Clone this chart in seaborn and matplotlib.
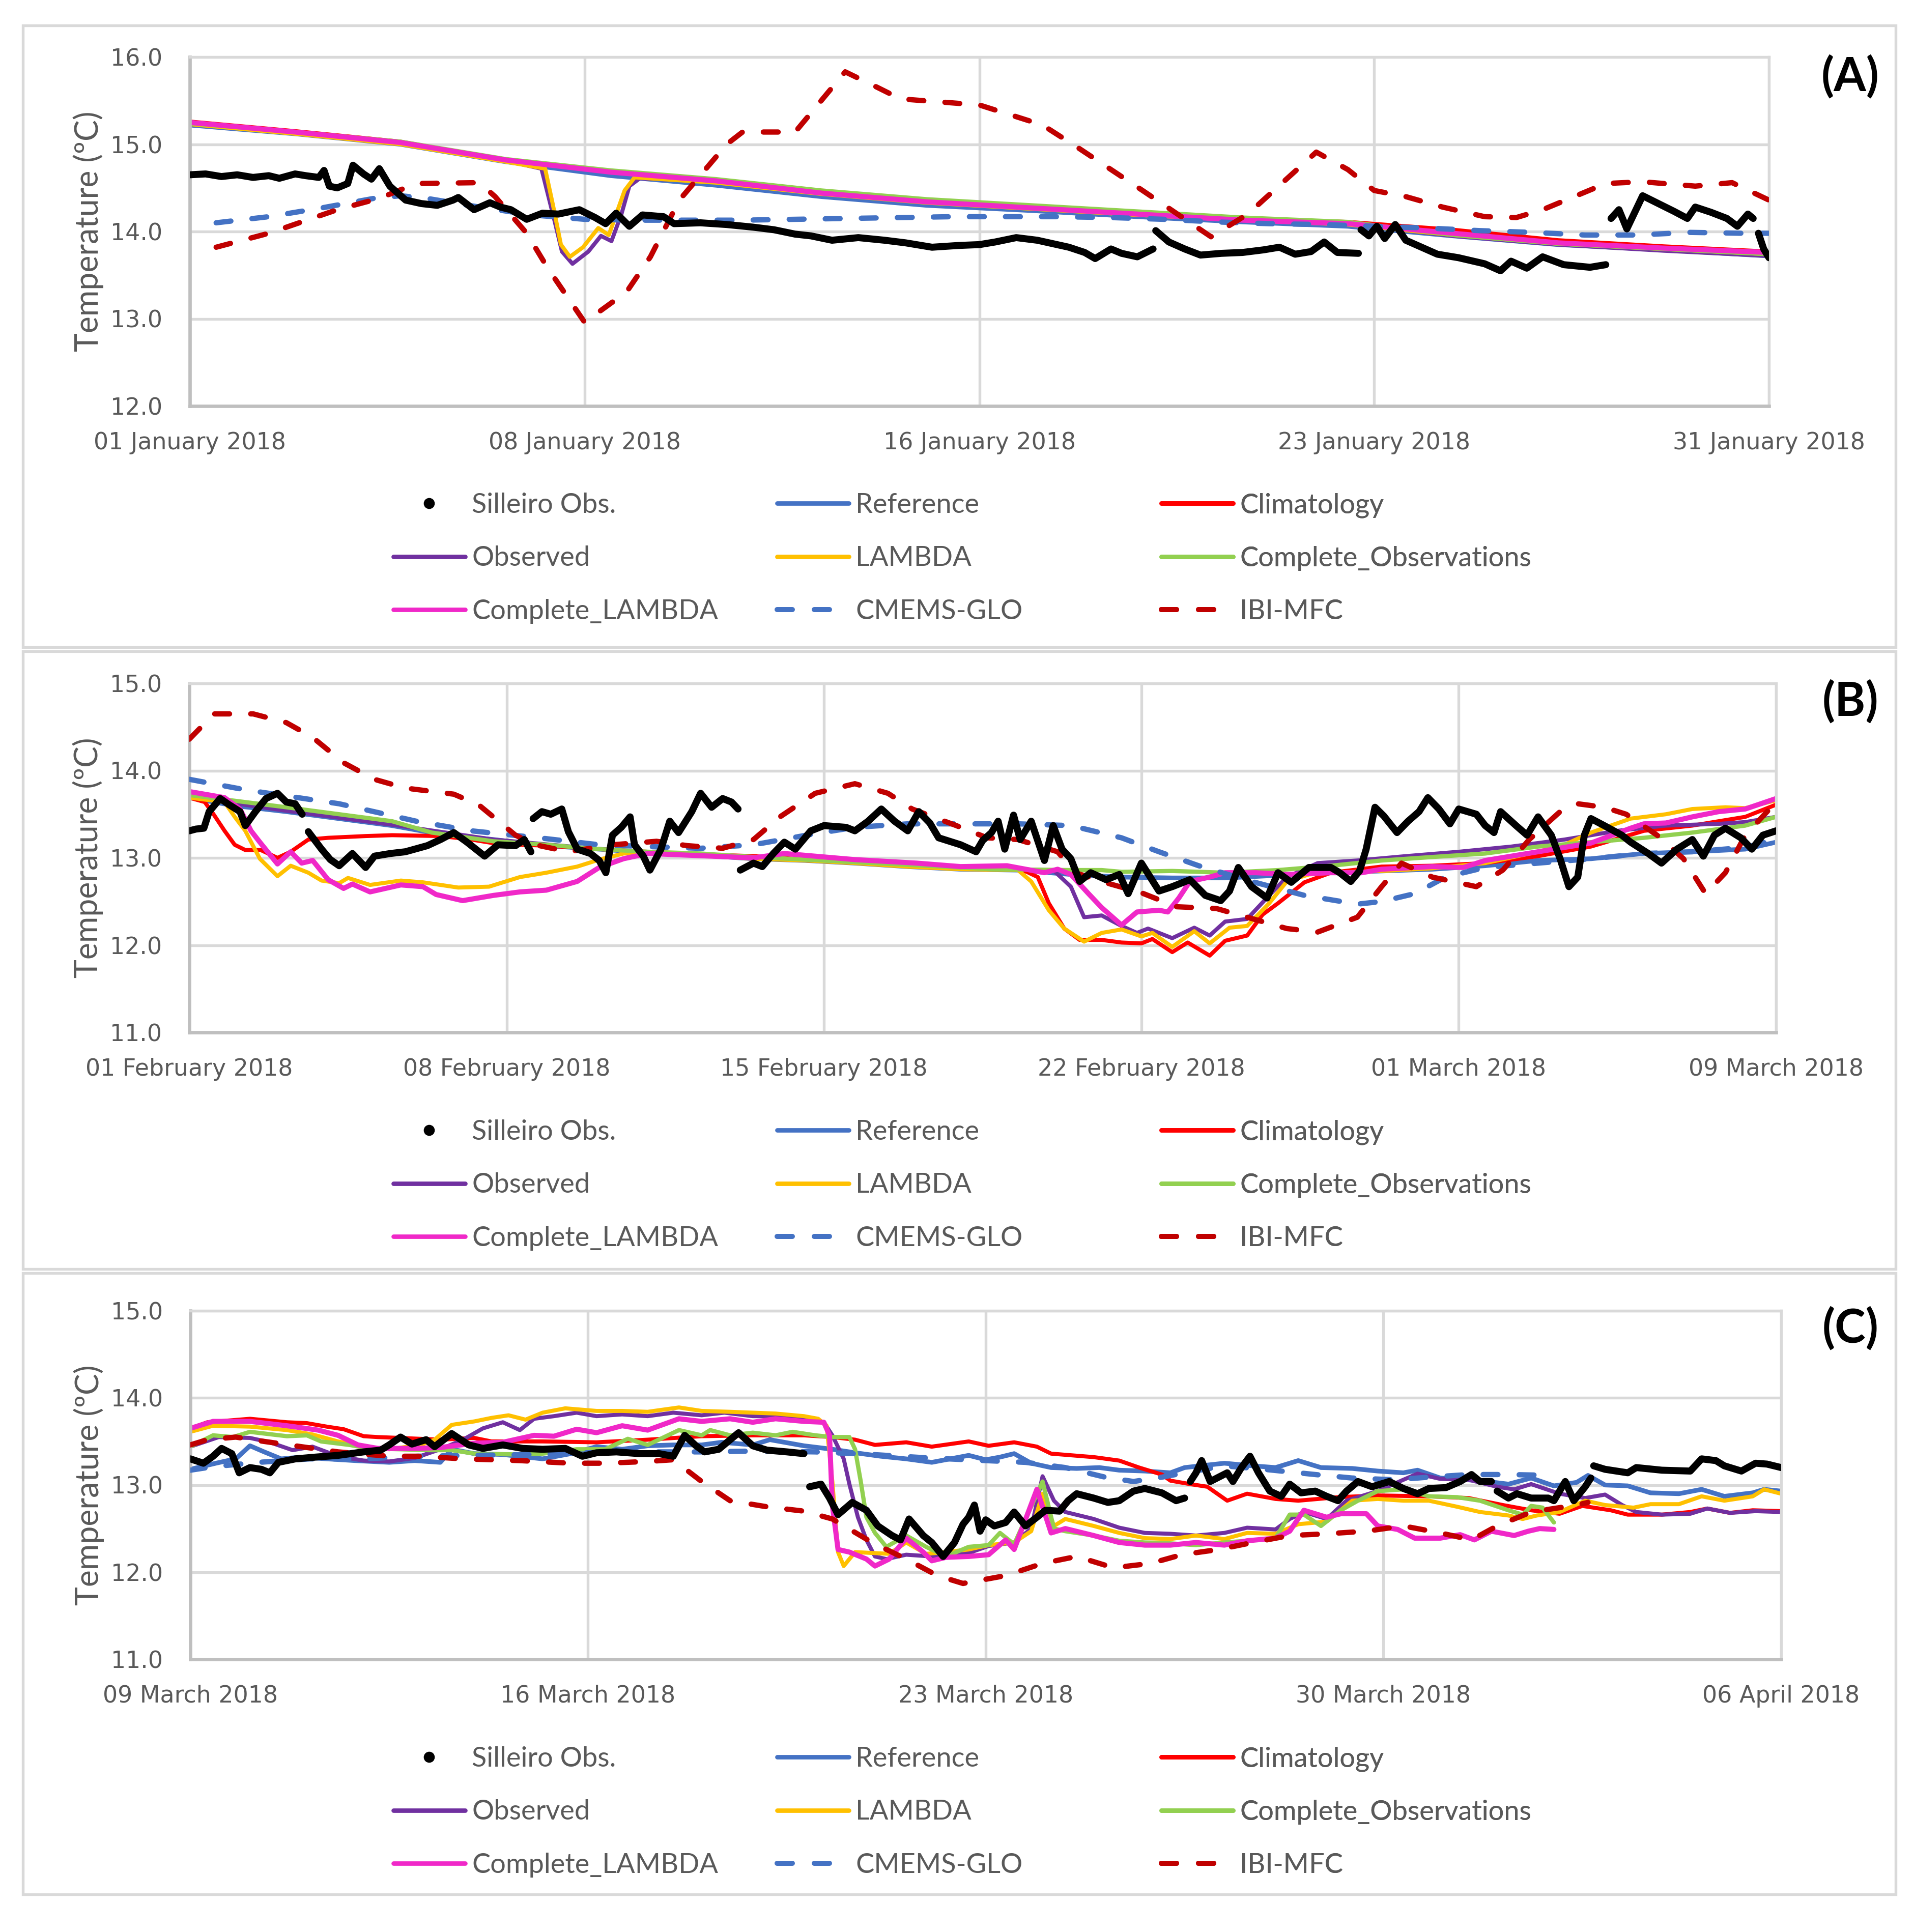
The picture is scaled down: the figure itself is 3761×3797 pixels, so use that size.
import numpy as np
import pandas as pd
import matplotlib
matplotlib.use("Agg")
import matplotlib.pyplot as plt
from matplotlib.lines import Line2D
from matplotlib.patches import Rectangle
import seaborn as sns

# x values are days since the first tick of each panel, y values in ºC

# ---------------- (A) January 2018 ----------------
a_ticks = [0, 7.5, 15, 22.5, 30]
a_ticklabels = ["01 January 2018", "08 January 2018", "16 January 2018",
                "23 January 2018", "31 January 2018"]
a_days = [0, 2, 4, 6, 8, 10, 12, 14, 16, 18, 20, 22, 24, 26, 28, 30]
a_reference = [15.22, 15.12, 15.00, 14.80, 14.64, 14.53, 14.40, 14.30,
               14.24, 14.17, 14.11, 14.06, 13.95, 13.85, 13.79, 13.72]
a_climatology = [15.26, 15.15, 15.03, 14.82, 14.68, 14.58, 14.45, 14.34,
                 14.28, 14.21, 14.15, 14.11, 14.02, 13.90, 13.83, 13.77]
a_complete_obs = [15.24, 15.14, 15.03, 14.83, 14.70, 14.60, 14.47, 14.37,
                  14.30, 14.23, 14.16, 14.11, 13.96, 13.86, 13.80, 13.74]
a_complete_lambda = [15.25, 15.14, 15.02, 14.82, 14.68, 14.58, 14.44, 14.34,
                     14.27, 14.20, 14.13, 14.09, 13.98, 13.87, 13.81, 13.76]
a_observed = [(0, 15.24), (2, 15.13), (4, 15.01), (6, 14.81), (6.68, 14.72), (6.93, 14.12),
              (7.07, 13.77), (7.27, 13.63), (7.57, 13.77), (7.81, 13.95), (8.01, 13.89),
              (8.2, 14.20), (8.35, 14.52), (8.55, 14.61), (10, 14.57), (12, 14.44), (14, 14.34),
              (16, 14.27), (18, 14.20), (20, 14.13), (22, 14.09), (24, 13.95), (26, 13.85),
              (28, 13.78), (30, 13.72)]
a_lambda = [(0, 15.23), (2, 15.12), (4, 15.00), (6, 14.80), (6.75, 14.72), (6.9, 14.30),
            (7.05, 13.85), (7.22, 13.71), (7.47, 13.82), (7.76, 14.04), (7.96, 13.96),
            (8.26, 14.47), (8.45, 14.62), (10, 14.56), (12, 14.43), (14, 14.33), (16, 14.26),
            (18, 14.19), (20, 14.13), (22, 14.08), (24, 13.96), (26, 13.86), (28, 13.80),
            (30, 13.74)]
a_cmems = [(0.5, 14.10), (1.5, 14.17), (2.5, 14.27), (3.5, 14.38), (4.0, 14.41), (4.5, 14.38),
           (5.5, 14.28), (6.5, 14.19), (7.5, 14.14), (8.5, 14.13), (9.5, 14.13), (10.5, 14.13),
           (11.5, 14.14), (12.5, 14.15), (13.5, 14.16), (14.5, 14.17), (15.5, 14.17),
           (16.5, 14.17), (17.5, 14.16), (18.5, 14.14), (19.5, 14.11), (20.5, 14.09),
           (21.5, 14.08), (22.5, 14.06), (23.5, 14.04), (24.5, 14.01), (25.5, 13.99),
           (26.5, 13.96), (27.5, 13.96), (28.5, 13.99), (29.5, 13.98), (30.0, 13.98)]
a_ibi = [(0.5, 13.82), (1.5, 13.98), (2.8, 14.25), (3.6, 14.38), (4.3, 14.55), (5.5, 14.56),
         (5.8, 14.40), (6.4, 13.98), (6.8, 13.58), (7.5, 12.96), (8.3, 13.31), (8.75, 13.71),
         (9.3, 14.36), (10.2, 15.00), (10.5, 15.14), (11.5, 15.14), (12.45, 15.83), (13.0, 15.67),
         (13.5, 15.52), (15.0, 15.45), (16.2, 15.22), (16.9, 14.95), (18.1, 14.47), (19.4, 13.94),
         (20.1, 14.20), (21.4, 14.91), (22.0, 14.71), (22.5, 14.47), (23.1, 14.40), (23.8, 14.28),
         (24.6, 14.17), (25.2, 14.16), (25.7, 14.25), (26.9, 14.55), (27.6, 14.57), (28.6, 14.52),
         (29.3, 14.56), (30.0, 14.36)]
a_obs = [(0.0, 14.65), (0.3, 14.66), (0.6, 14.63), (0.9, 14.65), (1.2, 14.62), (1.5, 14.64),
         (1.7, 14.61), (2.0, 14.66), (2.2, 14.64), (2.45, 14.62), (2.55, 14.70), (2.65, 14.52),
         (2.8, 14.50), (3.0, 14.55), (3.1, 14.76), (3.3, 14.66), (3.45, 14.60), (3.6, 14.72),
         (3.8, 14.52), (4.1, 14.36), (4.4, 14.32), (4.7, 14.30), (5.0, 14.36), (5.1, 14.39),
         (5.4, 14.25), (5.7, 14.33), (5.9, 14.28), (6.1, 14.25), (6.4, 14.14), (6.7, 14.21),
         (7.0, 14.20), (7.4, 14.25), (7.7, 14.16), (7.9, 14.09), (8.1, 14.21), (8.35, 14.06),
         (8.6, 14.19), (9.0, 14.17), (9.2, 14.09), (9.7, 14.10), (10.2, 14.08), (10.7, 14.05),
         (11.1, 14.02), (11.5, 13.97), (11.8, 13.95), (12.2, 13.90), (12.7, 13.93), (13.2, 13.90),
         (13.6, 13.87), (14.1, 13.82), (14.6, 13.84), (15.0, 13.85), (15.3, 13.88), (15.7, 13.93),
         (16.1, 13.90), (16.4, 13.86), (16.7, 13.82), (17.0, 13.76), (17.2, 13.69), (17.5, 13.80),
         (17.7, 13.75), (18.0, 13.71), (18.3, 13.80),
         (18.35, 14.01), (18.6, 13.88), (18.9, 13.80), (19.2, 13.73), (19.6, 13.75), (20.0, 13.76),
         (20.4, 13.79), (20.7, 13.82), (21.0, 13.74), (21.3, 13.77), (21.55, 13.88), (21.8, 13.76),
         (22.2, 13.75),
         (22.25, 14.02), (22.4, 13.95), (22.55, 14.06), (22.7, 13.92), (22.9, 14.08), (23.1, 13.90),
         (23.4, 13.82), (23.7, 13.74), (24.1, 13.70), (24.6, 13.63), (24.9, 13.55), (25.1, 13.66),
         (25.4, 13.58), (25.7, 13.71), (26.1, 13.62), (26.6, 13.59), (26.9, 13.62),
         (27.0, 14.15), (27.15, 14.25), (27.3, 14.03), (27.6, 14.41), (27.9, 14.32), (28.2, 14.23),
         (28.45, 14.15), (28.6, 14.28), (28.9, 14.22), (29.2, 14.15), (29.4, 14.06), (29.6, 14.20),
         (29.7, 14.15),
         (29.8, 13.98), (29.9, 13.80), (30.0, 13.70)]
a_obs_gaps = [18.33, 22.22, 26.95, 29.75]

# ---------------- (B) February - March 2018 ----------------
b_ticks = [0, 7.2, 14.4, 21.6, 28.8, 36]
b_ticklabels = ["01 February 2018", "08 February 2018", "15 February 2018",
                "22 February 2018", "01 March 2018", "09 March 2018"]
b_reference = [(0, 13.69), (1, 13.60), (2.2, 13.53), (3.4, 13.45), (4.6, 13.37), (5.7, 13.27),
               (6.9, 13.21), (8.1, 13.14), (9.3, 13.10), (10.4, 13.06), (11.6, 13.03), (12.8, 12.99),
               (14, 12.97), (15.1, 12.94), (16.3, 12.90), (17.5, 12.87), (18.8, 12.86), (20, 12.81),
               (21.15, 12.78), (22.3, 12.77), (23.5, 12.77), (24.7, 12.80), (25.9, 12.83),
               (27.05, 12.85), (28.2, 12.87), (29.4, 12.91), (30.6, 12.97), (31.8, 12.99), (33, 13.05),
               (34.1, 13.07), (35.3, 13.10), (36, 13.18)]
b_climatology = [(0, 13.69), (0.35, 13.64), (0.55, 13.50), (0.8, 13.31), (1.03, 13.15), (1.27, 13.09),
                 (1.62, 13.09), (2.0, 13.00), (2.3, 13.07), (2.7, 13.21), (3.15, 13.23), (4.0, 13.25),
                 (4.6, 13.26), (5.7, 13.25), (6.4, 13.21), (7.0, 13.16), (8.1, 13.14), (9.3, 13.10),
                 (10.4, 13.07), (11.6, 13.04), (12.8, 13.02), (14, 12.98), (15.1, 12.95), (16.3, 12.91),
                 (17.5, 12.88), (18.8, 12.87), (19.0, 12.84), (19.25, 12.78), (19.5, 12.48),
                 (19.85, 12.19), (20.2, 12.06), (20.7, 12.06), (21.15, 12.03), (21.6, 12.02),
                 (21.85, 12.07), (22.3, 11.92), (22.65, 12.03), (23.15, 11.88), (23.5, 12.05),
                 (24.0, 12.11), (24.35, 12.35), (24.7, 12.48), (25.3, 12.72), (25.9, 12.83),
                 (27.05, 12.90), (28.2, 12.91), (29.4, 12.94), (30.6, 13.02), (31.8, 13.13),
                 (33, 13.31), (34.1, 13.37), (35.3, 13.47), (36, 13.61)]
b_observed = [(0, 13.70), (2.2, 13.54), (4.6, 13.38), (6.9, 13.21), (9.3, 13.10), (11.6, 13.03),
              (14, 12.97), (16.3, 12.91), (18.8, 12.87), (19.6, 12.86), (20.0, 12.67), (20.3, 12.32),
              (20.7, 12.34), (21.15, 12.22), (21.5, 12.14), (21.75, 12.19), (22.3, 12.08), (22.8, 12.20),
              (23.15, 12.11), (23.5, 12.27), (24.0, 12.30), (24.5, 12.57), (24.9, 12.78), (25.6, 12.94),
              (26.5, 12.97), (27.6, 13.02), (28.8, 13.07), (30.0, 13.13), (31.2, 13.21), (32.4, 13.31),
              (33.5, 13.37), (34.7, 13.39), (35.3, 13.41), (36, 13.47)]
b_lambda = [(0, 13.69), (0.8, 13.64), (1.03, 13.47), (1.27, 13.31), (1.6, 12.99), (2.0, 12.79),
            (2.3, 12.91), (2.7, 12.83), (3.0, 12.74), (3.4, 12.71), (3.6, 12.77), (4.1, 12.69),
            (4.8, 12.74), (5.3, 12.72), (6.1, 12.66), (6.8, 12.67), (7.5, 12.78), (8.1, 12.83),
            (8.8, 12.90), (9.3, 12.98), (9.85, 13.05), (10.4, 13.06), (11.6, 13.03), (12.8, 12.99),
            (14, 12.97), (15.1, 12.94), (16.3, 12.90), (17.5, 12.87), (18.8, 12.86), (19.1, 12.73),
            (19.5, 12.40), (19.85, 12.19), (20.3, 12.04), (20.7, 12.14), (21.15, 12.18), (21.6, 12.10),
            (21.85, 12.14), (22.3, 11.98), (22.8, 12.16), (23.15, 12.02), (23.6, 12.20), (24.0, 12.22),
            (24.5, 12.48), (24.9, 12.73), (25.4, 12.81), (25.9, 12.83), (27.05, 12.85), (28.2, 12.88),
            (29.4, 12.94), (30.6, 13.07), (31.2, 13.15), (31.8, 13.29), (32.7, 13.45), (33.5, 13.50),
            (34.1, 13.56), (34.85, 13.58), (35.3, 13.57), (36, 13.66)]
b_complete_obs = [(0, 13.72), (2.2, 13.58), (3.4, 13.50), (4.6, 13.42), (5.5, 13.29), (6.9, 13.19),
                  (8.1, 13.15), (9.3, 13.10), (10.4, 13.07), (11.6, 13.05), (12.8, 13.01), (16.3, 12.92),
                  (18.2, 12.87), (20, 12.86), (20.7, 12.86), (21.15, 12.84), (22.3, 12.85), (23.5, 12.83),
                  (24.7, 12.86), (25.9, 12.91), (27.05, 12.97), (28.2, 13.01), (29.4, 13.05),
                  (30.6, 13.13), (31.8, 13.18), (33, 13.23), (34.1, 13.29), (35.3, 13.37), (36, 13.47)]
b_complete_lambda = [(0, 13.76), (0.8, 13.69), (1.15, 13.56), (1.4, 13.31), (1.6, 13.18), (2.0, 12.93),
                     (2.3, 13.07), (2.55, 12.94), (2.8, 12.97), (3.15, 12.75), (3.5, 12.65), (3.7, 12.70),
                     (4.1, 12.61), (4.8, 12.69), (5.3, 12.67), (5.6, 12.58), (6.2, 12.51), (6.9, 12.57),
                     (7.5, 12.61), (8.1, 12.63), (8.8, 12.73), (9.3, 12.89), (9.85, 12.99), (10.4, 13.05),
                     (12.8, 13.00), (13.5, 13.05), (15.1, 12.98), (16.5, 12.94), (17.5, 12.90),
                     (18.55, 12.91), (19.4, 12.83), (19.7, 12.87), (20.0, 12.81), (20.4, 12.59),
                     (20.7, 12.43), (21.15, 12.23), (21.5, 12.38), (22.0, 12.40), (22.2, 12.38),
                     (22.45, 12.54), (22.7, 12.73), (23.15, 12.78), (23.5, 12.83), (24.2, 12.83),
                     (24.9, 12.81), (25.9, 12.83), (26.6, 12.83), (27.05, 12.87), (28.2, 12.90),
                     (28.9, 12.89), (29.4, 12.97), (30.6, 13.07), (31.8, 13.17), (32.7, 13.34),
                     (33.0, 13.39), (33.5, 13.40), (34.1, 13.47), (34.7, 13.53), (35.3, 13.56), (36, 13.68)]
b_cmems = [(0, 13.90), (1.27, 13.78), (3.4, 13.62), (5.15, 13.42), (6.4, 13.31), (8.1, 13.22),
           (9.3, 13.15), (10.4, 13.13), (11.6, 13.11), (12.8, 13.15), (14, 13.26), (15.1, 13.35),
           (16.3, 13.39), (18.8, 13.39), (20, 13.37), (21.15, 13.23), (22, 13.07), (22.9, 12.91),
           (24.1, 12.73), (25.3, 12.57), (26.5, 12.47), (27.05, 12.50), (27.8, 12.59), (28.5, 12.78),
           (29.4, 12.89), (30.6, 12.94), (31.8, 12.99), (33, 13.05), (34.1, 13.07), (35.3, 13.12),
           (36, 13.21)]
b_ibi = [(0, 14.36), (0.56, 14.65), (1.45, 14.65), (2.2, 14.55), (2.8, 14.38), (3.5, 14.09),
         (4.2, 13.90), (4.9, 13.80), (6.0, 13.73), (6.56, 13.61), (7.4, 13.26), (7.85, 13.15),
         (8.6, 13.07), (9.6, 13.15), (10.6, 13.19), (11.3, 13.14), (12.1, 13.11), (12.8, 13.21),
         (13.4, 13.47), (14.2, 13.74), (15.1, 13.85), (15.85, 13.74), (16.4, 13.56), (17.4, 13.37),
         (18.1, 13.23), (18.8, 13.21), (19.7, 13.07), (20.1, 12.83), (20.9, 12.70), (21.6, 12.60),
         (22.4, 12.44), (23.3, 12.42), (24.0, 12.32), (24.9, 12.19), (25.6, 12.15), (26.5, 12.32),
         (27.05, 12.67), (27.5, 12.94), (28.2, 12.78), (29.2, 12.67), (29.8, 12.86), (30.4, 13.21),
         (31.1, 13.53), (31.5, 13.62), (32.1, 13.58), (32.6, 13.50), (33.3, 13.26), (33.9, 12.99),
         (34.4, 12.59), (34.85, 12.83), (35.3, 13.26), (36, 13.64)]
b_obs = [(0.0, 13.31), (0.15, 13.33), (0.33, 13.34), (0.45, 13.53), (0.7, 13.68), (0.9, 13.61),
         (1.15, 13.53), (1.27, 13.37), (1.5, 13.53), (1.74, 13.68), (2.0, 13.74), (2.2, 13.64),
         (2.4, 13.62), (2.56, 13.50),
         (2.7, 13.30), (3.0, 13.10), (3.2, 12.98), (3.4, 12.91), (3.7, 13.05), (4.0, 12.89),
         (4.2, 13.02), (4.56, 13.05), (4.9, 13.07), (5.4, 13.14), (5.7, 13.21), (6.0, 13.29),
         (6.3, 13.18), (6.7, 13.02), (7.0, 13.15), (7.4, 13.14), (7.6, 13.21), (7.75, 13.07),
         (7.8, 13.45), (8.0, 13.53), (8.2, 13.50), (8.45, 13.56), (8.6, 13.30), (8.8, 13.10),
         (9.1, 13.05), (9.3, 12.97), (9.45, 12.83), (9.6, 13.26), (9.8, 13.35), (10.0, 13.47),
         (10.1, 13.15), (10.3, 13.02), (10.45, 12.86), (10.7, 13.10), (10.9, 13.42), (11.1, 13.29),
         (11.4, 13.53), (11.6, 13.74), (11.85, 13.58), (12.1, 13.68), (12.3, 13.64), (12.45, 13.56),
         (12.5, 12.86), (12.8, 12.94), (13.0, 12.90), (13.25, 13.05), (13.5, 13.18), (13.75, 13.10),
         (14.1, 13.31), (14.4, 13.37), (14.9, 13.35), (15.1, 13.31), (15.4, 13.42), (15.7, 13.56),
         (16.0, 13.42), (16.3, 13.31), (16.55, 13.53), (16.8, 13.40), (17.0, 13.23), (17.5, 13.15),
         (17.85, 13.07), (18.0, 13.20), (18.2, 13.29), (18.35, 13.42), (18.5, 13.10), (18.7, 13.49),
         (18.85, 13.21), (19.1, 13.42), (19.4, 12.97), (19.6, 13.37), (19.8, 13.10), (20.0, 12.99),
         (20.2, 12.73), (20.45, 12.83), (20.8, 12.75), (21.1, 12.81), (21.3, 12.59), (21.6, 12.94),
         (22.0, 12.62), (22.3, 12.67), (22.7, 12.75), (23.05, 12.57), (23.4, 12.51), (23.6, 12.62),
         (23.8, 12.89), (24.1, 12.67), (24.45, 12.54), (24.7, 12.83), (25.0, 12.72), (25.4, 12.89),
         (25.9, 12.89), (26.1, 12.83), (26.35, 12.73), (26.55, 12.85), (26.7, 13.10), (26.9, 13.58),
         (27.1, 13.48), (27.4, 13.29), (27.65, 13.42), (27.9, 13.53), (28.1, 13.69), (28.35, 13.56),
         (28.6, 13.39), (28.8, 13.56), (29.2, 13.50), (29.4, 13.37), (29.6, 13.29), (29.75, 13.53),
         (30.1, 13.37), (30.35, 13.26), (30.6, 13.47), (30.9, 13.26), (31.1, 12.99), (31.3, 12.67),
         (31.5, 12.78), (31.65, 13.26), (31.8, 13.45), (32.1, 13.37), (32.5, 13.26), (32.7, 13.18),
         (33.1, 13.05), (33.4, 12.94), (33.75, 13.10), (34.1, 13.21), (34.35, 13.02), (34.6, 13.26),
         (34.85, 13.34), (35.2, 13.23), (35.45, 13.10), (35.7, 13.26), (36.0, 13.31)]
b_obs_gaps = [2.65, 7.78, 12.48]

# ---------------- (C) March - April 2018 ----------------
c_ticks = [0, 7, 14, 21, 28]
c_ticklabels = ["09 March 2018", "16 March 2018", "23 March 2018",
                "30 March 2018", "06 April 2018"]
c_reference = [(0, 13.18), (0.45, 13.25), (0.8, 13.30), (1.05, 13.45), (1.3, 13.38), (1.6, 13.30),
               (1.95, 13.32), (2.4, 13.30), (2.9, 13.28), (3.5, 13.26), (3.95, 13.28), (4.4, 13.26),
               (4.6, 13.41), (5.0, 13.36), (5.5, 13.35), (6.2, 13.30), (6.7, 13.36), (7.15, 13.44),
               (7.6, 13.41), (8.05, 13.45), (8.5, 13.46), (9.0, 13.46), (9.35, 13.49), (9.9, 13.46),
               (10.2, 13.52), (10.8, 13.45), (11.3, 13.41), (11.7, 13.37), (12.15, 13.33), (12.6, 13.30),
               (13.05, 13.26), (13.7, 13.34), (14.0, 13.29), (14.25, 13.32), (14.5, 13.36), (14.8, 13.25),
               (15.15, 13.20), (15.6, 13.19), (16.0, 13.20), (16.35, 13.17), (16.8, 13.16), (17.25, 13.14),
               (17.5, 13.20), (18.2, 13.25), (18.7, 13.22), (19.1, 13.20), (19.5, 13.28), (19.9, 13.20),
               (20.45, 13.19), (20.9, 13.16), (21.35, 13.14), (21.6, 13.17), (22.0, 13.08), (22.7, 13.05),
               (23.2, 13.01), (23.6, 13.08), (24.0, 12.99), (24.4, 13.03), (24.6, 13.11), (24.9, 13.00),
               (25.3, 12.99), (25.7, 12.91), (26.2, 12.90), (26.6, 12.95), (27.0, 12.87), (27.5, 12.91),
               (27.7, 12.95), (28.0, 12.93)]
c_climatology = [(0, 13.65), (0.3, 13.72), (1.05, 13.76), (1.7, 13.72), (2.05, 13.71), (2.4, 13.67),
                 (2.7, 13.64), (3.05, 13.56), (3.3, 13.55), (3.7, 13.54), (4.4, 13.52), (5.0, 13.54),
                 (5.3, 13.50), (6.2, 13.50), (7.15, 13.49), (8.05, 13.52), (9.0, 13.56), (9.9, 13.57),
                 (10.8, 13.57), (11.3, 13.55), (11.7, 13.52), (12.05, 13.46), (12.6, 13.49),
                 (13.05, 13.44), (13.7, 13.50), (14.05, 13.45), (14.5, 13.49), (14.9, 13.44),
                 (15.15, 13.36), (15.9, 13.32), (16.35, 13.28), (16.7, 13.20), (17.1, 13.12),
                 (17.25, 13.05), (17.6, 13.01), (17.9, 12.98), (18.25, 12.82), (18.6, 12.90),
                 (19.1, 12.84), (19.5, 12.82), (20.2, 12.86), (20.9, 12.88), (21.8, 12.87),
                 (22.5, 12.85), (23.1, 12.77), (23.6, 12.71), (24.1, 12.67), (24.5, 12.76),
                 (25.0, 12.71), (25.3, 12.66), (25.9, 12.66), (26.4, 12.69), (26.7, 12.73),
                 (27.1, 12.68), (27.5, 12.71), (28.0, 12.70)]
c_observed = [(0, 13.44), (0.5, 13.55), (1.05, 13.54), (1.4, 13.49), (1.8, 13.40), (2.15, 13.44),
              (2.6, 13.33), (3.05, 13.28), (3.5, 13.27), (3.95, 13.31), (4.4, 13.41), (4.8, 13.52),
              (5.15, 13.65), (5.5, 13.72), (5.8, 13.63), (6.05, 13.76), (6.4, 13.79), (6.8, 13.83),
              (7.15, 13.79), (7.6, 13.81), (8.05, 13.79), (8.5, 13.83), (9.0, 13.80), (9.4, 13.83),
              (9.9, 13.79), (10.3, 13.79), (10.8, 13.76), (11.15, 13.72), (11.3, 13.57), (11.5, 13.30),
              (11.6, 13.01), (11.75, 12.63), (11.9, 12.37), (12.05, 12.18), (12.25, 12.15),
              (12.6, 12.20), (13.05, 12.18), (13.3, 12.21), (13.7, 12.22), (14.05, 12.30),
              (14.5, 12.34), (14.8, 12.50), (15.0, 13.10), (15.2, 12.82), (15.4, 12.69), (15.9, 12.61),
              (16.35, 12.51), (16.8, 12.45), (17.25, 12.44), (17.7, 12.42), (18.2, 12.45),
              (18.6, 12.51), (19.1, 12.49), (19.35, 12.61), (19.6, 12.69), (20.0, 12.61),
              (20.35, 12.82), (20.9, 12.93), (21.35, 13.06), (21.6, 13.13), (22.0, 13.07),
              (22.5, 13.06), (23.0, 12.98), (23.3, 12.95), (23.6, 13.01), (24.1, 12.90),
              (24.55, 12.85), (24.9, 12.89), (25.2, 12.77), (25.45, 12.69), (25.9, 12.66),
              (26.4, 12.67), (26.7, 12.73), (27.1, 12.68), (27.55, 12.70), (28.0, 12.69)]
c_lambda = [(0, 13.61), (0.4, 13.68), (1.05, 13.67), (1.7, 13.63), (2.15, 13.58), (2.6, 13.50),
            (3.05, 13.44), (3.5, 13.41), (4.05, 13.46), (4.3, 13.52), (4.6, 13.69), (5.0, 13.73),
            (5.3, 13.77), (5.6, 13.80), (5.9, 13.75), (6.2, 13.83), (6.6, 13.88), (7.15, 13.85),
            (7.6, 13.85), (8.05, 13.84), (8.6, 13.89), (9.0, 13.85), (9.5, 13.84), (10.3, 13.82),
            (10.8, 13.79), (11.05, 13.76), (11.2, 13.68), (11.3, 13.04), (11.4, 12.23), (11.5, 12.07),
            (11.7, 12.23), (12.0, 12.22), (12.3, 12.21), (12.6, 12.34), (12.95, 12.21), (13.3, 12.23),
            (13.7, 12.26), (14.05, 12.31), (14.5, 12.34), (14.8, 12.47), (15.0, 12.90), (15.2, 12.53),
            (15.4, 12.61), (15.9, 12.53), (16.35, 12.45), (16.8, 12.39), (17.25, 12.38), (17.7, 12.42),
            (18.2, 12.38), (18.6, 12.45), (19.1, 12.44), (19.5, 12.55), (20.0, 12.58), (20.45, 12.82),
            (20.9, 12.84), (21.35, 12.82), (21.8, 12.82), (22.3, 12.75), (22.7, 12.69), (23.2, 12.65),
            (23.45, 12.61), (23.7, 12.65), (24.1, 12.69), (24.55, 12.82), (24.9, 12.77), (25.4, 12.74),
            (25.7, 12.78), (26.2, 12.78), (26.6, 12.87), (27.0, 12.82), (27.5, 12.87), (27.7, 12.95),
            (28.0, 12.90)]
c_complete_obs = [(0, 13.44), (0.4, 13.57), (0.75, 13.55), (1.05, 13.61), (1.7, 13.56), (2.05, 13.57),
                  (2.3, 13.50), (2.8, 13.46), (3.15, 13.42), (3.7, 13.41), (4.2, 13.40), (4.6, 13.40),
                  (5.0, 13.36), (5.8, 13.35), (6.2, 13.36), (6.8, 13.41), (7.3, 13.41), (7.7, 13.53),
                  (8.05, 13.46), (8.6, 13.63), (9.0, 13.57), (9.15, 13.63), (9.5, 13.57), (9.9, 13.60),
                  (10.3, 13.57), (10.6, 13.61), (11.0, 13.57), (11.3, 13.55), (11.6, 13.55),
                  (11.7, 13.41), (11.8, 13.04), (11.9, 12.63), (12.05, 12.45), (12.25, 12.29),
                  (12.6, 12.42), (12.95, 12.29), (13.3, 12.18), (13.7, 12.29), (14.05, 12.31),
                  (14.25, 12.45), (14.5, 12.32), (15.0, 13.04), (15.2, 12.50), (15.4, 12.47),
                  (15.9, 12.42), (16.35, 12.36), (16.8, 12.34), (17.25, 12.33), (17.7, 12.31),
                  (18.2, 12.34), (18.6, 12.36), (19.1, 12.39), (19.35, 12.66), (19.6, 12.66),
                  (19.9, 12.53), (20.25, 12.71), (20.55, 12.82), (20.9, 12.93), (21.35, 12.95),
                  (21.8, 12.87), (22.3, 12.86), (22.7, 12.82), (23.2, 12.71), (23.45, 12.66),
                  (23.6, 12.76), (23.8, 12.74), (24.0, 12.57)]
c_complete_lambda = [(0, 13.65), (0.4, 13.73), (1.05, 13.73), (1.7, 13.68), (2.25, 13.63), (2.6, 13.57),
                     (2.95, 13.46), (3.3, 13.42), (3.95, 13.42), (4.4, 13.43), (5.0, 13.48), (5.5, 13.49),
                     (6.05, 13.57), (6.4, 13.56), (6.8, 13.64), (7.15, 13.60), (7.6, 13.68), (8.05, 13.63),
                     (8.6, 13.76), (9.0, 13.73), (9.5, 13.76), (9.9, 13.72), (10.3, 13.76), (10.8, 13.73),
                     (11.15, 13.72), (11.25, 13.57), (11.3, 12.77), (11.4, 12.26), (11.6, 12.23),
                     (11.9, 12.15), (12.05, 12.07), (12.3, 12.15), (12.6, 12.39), (12.9, 12.23),
                     (13.05, 12.13), (13.3, 12.17), (13.7, 12.18), (14.05, 12.20), (14.35, 12.37),
                     (14.5, 12.26), (14.9, 12.95), (15.15, 12.45), (15.4, 12.50), (15.9, 12.42),
                     (16.35, 12.34), (16.8, 12.31), (17.25, 12.31), (17.7, 12.34), (18.2, 12.31),
                     (18.6, 12.36), (19.1, 12.39), (19.35, 12.47), (19.6, 12.71), (20.0, 12.63),
                     (20.25, 12.67), (20.7, 12.67), (20.9, 12.53), (21.25, 12.49), (21.55, 12.39),
                     (22.0, 12.39), (22.35, 12.43), (22.6, 12.37), (22.9, 12.47), (23.3, 12.42),
                     (23.55, 12.47), (23.75, 12.50), (24.0, 12.49)]
c_cmems = [(0, 13.17), (0.4, 13.21), (1.2, 13.26), (2.1, 13.30), (3.05, 13.30), (4.0, 13.33),
           (5.0, 13.34), (6.0, 13.35), (7.0, 13.37), (8.0, 13.38), (9.0, 13.38), (10.0, 13.39),
           (11.0, 13.38), (12.0, 13.35), (13.0, 13.31), (14.0, 13.28), (14.7, 13.26), (15.4, 13.20),
           (16.1, 13.09), (16.6, 13.04), (17.1, 13.09), (17.5, 13.14), (18.2, 13.22), (18.9, 13.18),
           (19.8, 13.12), (20.45, 13.08), (21.2, 13.06), (21.8, 13.09), (22.5, 13.12), (23.2, 13.12),
           (24.0, 13.11)]
c_ibi = [(0, 13.46), (0.3, 13.52), (0.8, 13.55), (1.3, 13.50), (1.95, 13.44), (2.6, 13.38),
         (3.5, 13.33), (4.05, 13.33), (4.8, 13.30), (5.8, 13.28), (6.7, 13.25), (7.3, 13.25),
         (8.05, 13.27), (8.5, 13.29), (9.0, 13.04), (9.5, 12.82), (10.15, 12.75), (10.8, 12.70),
         (11.3, 12.61), (12.0, 12.34), (12.6, 12.15), (13.15, 11.96), (13.6, 11.87), (14.35, 11.96),
         (15.0, 12.10), (15.6, 12.18), (16.25, 12.05), (16.9, 12.10), (17.45, 12.20), (18.1, 12.26),
         (18.7, 12.34), (19.35, 12.42), (20.0, 12.44), (20.7, 12.47), (21.35, 12.53), (22.0, 12.45),
         (22.55, 12.37), (23.0, 12.53), (23.6, 12.69), (24.4, 12.77), (24.6, 12.80)]
c_obs = [(0.0, 13.30), (0.23, 13.25), (0.4, 13.33), (0.55, 13.42), (0.73, 13.36), (0.86, 13.14),
         (1.05, 13.20), (1.25, 13.18), (1.4, 13.14), (1.55, 13.26), (1.85, 13.30), (2.2, 13.32),
         (2.6, 13.34), (3.05, 13.38), (3.35, 13.40), (3.5, 13.46), (3.7, 13.55), (3.9, 13.47),
         (4.15, 13.52), (4.3, 13.44), (4.6, 13.59), (4.9, 13.46), (5.15, 13.42), (5.5, 13.46),
         (5.85, 13.42), (6.2, 13.41), (6.6, 13.42), (6.9, 13.33), (7.15, 13.37), (7.5, 13.38),
         (7.9, 13.36), (8.25, 13.36), (8.5, 13.33), (8.7, 13.57), (8.9, 13.45), (9.05, 13.38),
         (9.3, 13.41), (9.65, 13.60), (9.9, 13.45), (10.15, 13.40), (10.5, 13.38), (10.8, 13.36),
         (10.9, 12.98), (11.1, 13.01), (11.25, 12.85), (11.4, 12.66), (11.65, 12.80), (11.9, 12.71),
         (12.1, 12.53), (12.35, 12.42), (12.5, 12.37), (12.65, 12.61), (12.9, 12.42), (13.05, 12.34),
         (13.25, 12.18), (13.45, 12.34), (13.6, 12.55), (13.7, 12.63), (13.8, 12.77), (13.9, 12.47),
         (14.0, 12.60), (14.15, 12.53), (14.35, 12.57), (14.5, 12.69), (14.7, 12.53), (14.9, 12.63),
         (15.05, 12.71), (15.3, 12.70), (15.45, 12.82), (15.6, 12.90), (15.9, 12.85), (16.15, 12.80),
         (16.35, 12.82), (16.6, 12.93), (16.8, 12.96), (17.1, 12.91), (17.35, 12.82), (17.5, 12.85),
         (17.6, 13.04), (17.7, 13.14), (17.8, 13.28), (17.95, 13.04), (18.1, 13.09), (18.25, 13.14),
         (18.35, 13.04), (18.5, 13.20), (18.65, 13.33), (18.8, 13.14), (19.0, 12.93), (19.2, 12.87),
         (19.35, 13.01), (19.55, 12.91), (19.8, 12.93), (20.0, 12.87), (20.2, 12.82), (20.35, 12.93),
         (20.55, 13.04), (20.8, 12.98), (21.1, 13.04), (21.35, 12.96), (21.6, 12.90), (21.8, 12.96),
         (22.1, 12.97), (22.35, 13.04), (22.55, 13.12), (22.7, 13.04), (22.9, 13.04),
         (23.0, 12.93), (23.2, 12.85), (23.35, 12.90), (23.6, 12.85), (23.9, 12.85), (24.0, 12.82),
         (24.2, 13.04), (24.35, 12.82), (24.55, 12.98), (24.65, 13.08),
         (24.7, 13.22), (24.9, 13.18), (25.3, 13.14), (25.45, 13.20), (25.9, 13.17), (26.4, 13.16),
         (26.6, 13.30), (26.85, 13.28), (27.0, 13.22), (27.3, 13.16), (27.55, 13.25), (27.75, 13.24),
         (28.0, 13.20)]
c_obs_gaps = [10.85, 17.55, 22.95, 24.68]

# ---------------- styling ----------------
W, H, DPI = 3762, 3797, 300
GREY_TXT = "#595959"
GRID = "#D9D9D9"
DASH = (0, (2.8, 4.0))
DASH_LEG = (0, (3.0, 4.3))

STYLE = {
    "Silleiro Obs.": dict(color="black", lw=3.3, ls="-", z=6),
    "Reference": dict(color="#4472C4", lw=2.2, ls="-", z=2),
    "Climatology": dict(color="#FF0000", lw=1.9, ls="-", z=2.1),
    "Observed": dict(color="#7030A0", lw=1.9, ls="-", z=2.2),
    "LAMBDA": dict(color="#FFC000", lw=1.9, ls="-", z=2.3),
    "Complete_Observations": dict(color="#92D050", lw=2.0, ls="-", z=2.4),
    "Complete_LAMBDA": dict(color="#F028C8", lw=2.4, ls="-", z=2.5),
    "CMEMS-GLO": dict(color="#4472C4", lw=2.5, ls=DASH, z=3),
    "IBI-MFC": dict(color="#C00000", lw=2.5, ls=DASH, z=3.1),
}
LEGEND_COLUMNS = [["Silleiro Obs.", "Observed", "Complete_LAMBDA"],
                  ["Reference", "LAMBDA", "CMEMS-GLO"],
                  ["Climatology", "Complete_Observations", "IBI-MFC"]]

sns.set_theme(style="whitegrid")
plt.rcParams["font.family"] = ["DejaVu Sans"]


def to_fig(x0, y0, x1, y1):
    return [x0 / W, 1 - y1 / H, (x1 - x0) / W, (y1 - y0) / H]


def draw_series(ax, pts, name, gaps=None):
    st = STYLE[name]
    df = pd.DataFrame(pts, columns=["day", "temp"])
    df["seg"] = np.searchsorted(np.asarray(gaps or [], dtype=float), df["day"], side="right")
    sns.lineplot(data=df, x="day", y="temp", units="seg", estimator=None, sort=False,
                 color=st["color"], lw=st["lw"], ls=st["ls"], zorder=st["z"],
                 solid_capstyle="round", solid_joinstyle="round", dash_capstyle="round",
                 legend=False, ax=ax)


def legend_handle(name):
    st = STYLE[name]
    if name == "Silleiro Obs.":
        return Line2D([], [], ls="none", marker="o", ms=4.2, color="black")
    if st["ls"] == DASH:
        return Line2D([], [], color=st["color"], lw=2.4, ls=DASH_LEG, dash_capstyle="round")
    return Line2D([], [], color=st["color"], lw=2.1, ls="-")


panels = [
    dict(tag="(A)", frame=(45, 50, 3725, 1272), box=(373, 112, 3476, 798), ylim=(12, 16),
         span=30, ticks=a_ticks, labels=a_ticklabels, leg_y=1097, tag_y=151,
         series=[("Reference", list(zip(a_days, a_reference))),
                 ("Climatology", list(zip(a_days, a_climatology))),
                 ("Observed", a_observed), ("LAMBDA", a_lambda),
                 ("Complete_Observations", list(zip(a_days, a_complete_obs))),
                 ("Complete_LAMBDA", list(zip(a_days, a_complete_lambda))),
                 ("CMEMS-GLO", a_cmems), ("IBI-MFC", a_ibi)],
         obs=a_obs, gaps=a_obs_gaps),
    dict(tag="(B)", frame=(45, 1280, 3725, 2494), box=(372, 1343, 3490, 2029), ylim=(11, 15),
         span=36, ticks=b_ticks, labels=b_ticklabels, leg_y=2329, tag_y=1379,
         series=[("Reference", b_reference), ("Climatology", b_climatology),
                 ("Observed", b_observed), ("LAMBDA", b_lambda),
                 ("Complete_Observations", b_complete_obs), ("Complete_LAMBDA", b_complete_lambda),
                 ("CMEMS-GLO", b_cmems), ("IBI-MFC", b_ibi)],
         obs=b_obs, gaps=b_obs_gaps),
    dict(tag="(C)", frame=(45, 2502, 3725, 3723), box=(374, 2576, 3500, 3261), ylim=(11, 15),
         span=28, ticks=c_ticks, labels=c_ticklabels, leg_y=3561, tag_y=2611,
         series=[("Reference", c_reference), ("Climatology", c_climatology),
                 ("Observed", c_observed), ("LAMBDA", c_lambda),
                 ("Complete_Observations", c_complete_obs), ("Complete_LAMBDA", c_complete_lambda),
                 ("CMEMS-GLO", c_cmems), ("IBI-MFC", c_ibi)],
         obs=c_obs, gaps=c_obs_gaps),
]

fig = plt.figure(figsize=(W / DPI, H / DPI), dpi=DPI)
fig.patch.set_facecolor("white")

for p in panels:
    x0, y0, x1, y1 = p["frame"]
    fig.add_artist(Rectangle((x0 / W, 1 - y1 / H), (x1 - x0) / W, (y1 - y0) / H,
                             transform=fig.transFigure, fill=False, ec=GRID, lw=1.3, zorder=0))

    ax = fig.add_axes(to_fig(*p["box"]))
    for name, pts in p["series"]:
        draw_series(ax, pts, name)
    draw_series(ax, p["obs"], "Silleiro Obs.", p["gaps"])

    lo, hi = p["ylim"]
    ax.set_xlim(0, p["span"])
    ax.set_ylim(lo, hi)
    ax.set_xticks(p["ticks"])
    ax.set_xticklabels(p["labels"])
    yt = np.arange(lo, hi + 0.5, 1.0)
    ax.set_yticks(yt)
    ax.set_yticklabels([f"{v:.1f}" for v in yt])
    ax.grid(True, color=GRID, lw=1.3)
    ax.tick_params(length=0, labelsize=11, labelcolor=GREY_TXT)
    ax.tick_params(axis="y", pad=13)
    ax.tick_params(axis="x", pad=12)
    for s in ("top", "right"):
        ax.spines[s].set_color(GRID)
        ax.spines[s].set_linewidth(1.3)
    for s in ("left", "bottom"):
        ax.spines[s].set_color("#BFBFBF")
        ax.spines[s].set_linewidth(1.6)
    ax.set_xlabel("")
    ax.set_ylabel("Temperature (ºC)", fontsize=15, family=["Lato", "DejaVu Sans"],
                  color=GREY_TXT, labelpad=3)

    for col, cx in zip(LEGEND_COLUMNS, (773, 1527, 2282)):
        leg = ax.legend([legend_handle(n) for n in col], col, loc="center left",
                        bbox_to_anchor=(cx / W, 1 - p["leg_y"] / H),
                        bbox_transform=fig.transFigure, frameon=False, borderpad=0,
                        borderaxespad=0, handlelength=2.6, handletextpad=0.25,
                        labelspacing=1.02, prop={"family": ["Lato", "DejaVu Sans"], "size": 13},
                        labelcolor=GREY_TXT)
        ax.add_artist(leg)

    fig.text(3636 / W, 1 - p["tag_y"] / H, p["tag"], ha="center", va="center",
             fontsize=22, fontweight="bold", family=["Lato", "DejaVu Sans"], color="black")

fig.savefig("out.png", dpi=DPI, facecolor="white")
